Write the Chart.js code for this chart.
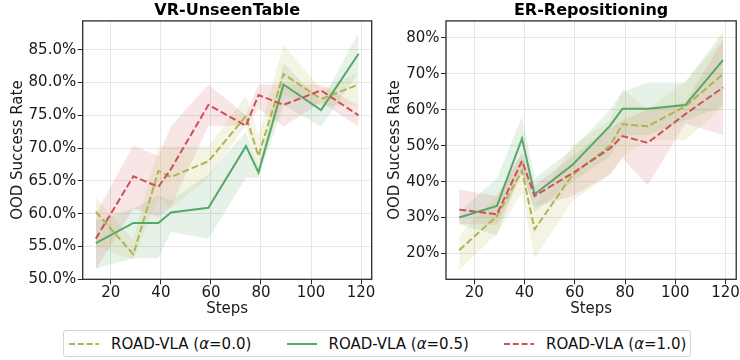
<!DOCTYPE html>
<html><head><meta charset="utf-8">
<script src="https://cdn.jsdelivr.net/npm/chart.js@4.4.1/dist/chart.umd.min.js"></script>
<style>
body{margin:0;background:#fff;width:740px;height:360px;overflow:hidden;position:relative;font-family:"DejaVu Sans",sans-serif;}
#c1{position:absolute;left:0;top:0;}
#c2{position:absolute;left:380px;top:0;}
#legend{position:absolute;left:63px;top:330px;width:628px;height:27px;border:1px solid #d5d5d5;border-radius:3px;box-sizing:border-box;font-size:15px;color:#111;}
.li{position:absolute;top:0;height:25px;display:flex;align-items:center;white-space:nowrap;}
.li svg{margin-right:12px;}
</style></head>
<body>
<canvas id="c1" width="380" height="320"></canvas>
<canvas id="c2" width="360" height="320"></canvas>
<div id="legend"></div>
<script>
// ---- data ----
const steps = [14, 29, 39, 44, 59, 74, 79, 89, 104, 119];
const xTicks = [20, 40, 60, 80, 100, 120];
const seriesNames = ['ROAD-VLA (α=0.0)', 'ROAD-VLA (α=0.5)', 'ROAD-VLA (α=1.0)'];

// VR-UnseenTable
const vrTicks = [50, 55, 60, 65, 70, 75, 80, 85];
const vrA00   = [60.3, 53.8, 66.5, 65.6, 68.0, 74.9, 68.8, 81.3, 77.5, 79.7];
const vrA00Lo = [55.0, 53.0, 62.5, 60.8, 65.5, 73.5, 66.0, 78.0, 76.5, 76.5];
const vrA00Hi = [62.5, 56.0, 70.3, 70.3, 70.3, 78.0, 72.0, 85.8, 79.0, 81.5];
const vrA05   = [55.5, 58.6, 58.6, 60.2, 60.9, 70.3, 66.3, 79.7, 75.8, 84.4];
const vrA05Lo = [51.7, 53.2, 53.2, 57.2, 56.2, 65.5, 65.5, 76.5, 73.3, 81.5];
const vrA05Hi = [59.0, 60.8, 62.8, 62.0, 66.0, 72.5, 67.0, 83.0, 77.0, 87.6];
const vrA10   = [56.2, 65.7, 64.1, 66.8, 76.6, 73.4, 78.1, 76.6, 78.8, 75.0];
const vrA10Lo = [51.5, 60.8, 59.5, 61.0, 73.4, 73.4, 76.0, 73.3, 77.0, 73.3];
const vrA10Hi = [60.0, 70.4, 68.8, 73.3, 79.7, 75.0, 79.7, 79.7, 79.7, 76.5];

// ER-Repositioning
const erTicks = [20, 30, 40, 50, 60, 70, 80];
const erA00   = [20.9, 30.4, 43.0, 26.7, 41.8, 50.0, 56.0, 55.4, 61.0, 69.9];
const erA00Lo = [15.4, 25.5, 37.0, 18.6, 34.5, 42.0, 47.0, 51.5, 51.5, 61.0];
const erA00Hi = [25.1, 36.0, 48.0, 33.0, 50.0, 57.0, 65.7, 60.0, 68.0, 79.9];
const erA05   = [30.0, 33.2, 52.0, 36.5, 44.6, 55.5, 60.3, 60.3, 61.3, 73.8];
const erA05Lo = [28.0, 25.1, 43.2, 31.5, 40.0, 47.0, 53.0, 53.0, 57.0, 61.0];
const erA05Hi = [31.6, 40.9, 58.2, 40.9, 49.0, 60.0, 65.0, 67.6, 67.6, 81.7];
const erA10   = [32.2, 30.9, 45.8, 36.0, 42.3, 49.2, 52.7, 50.8, 58.8, 66.2];
const erA10Lo = [28.2, 28.0, 42.0, 33.0, 36.0, 42.0, 46.5, 39.0, 56.2, 53.0];
const erA10Hi = [37.8, 36.0, 48.0, 39.0, 47.0, 55.0, 57.0, 60.0, 62.0, 79.4];

// ---- styles ----
const colors = ['#b3b350', '#55a868', '#d0505a'];
const bands = ['rgba(179,179,80,0.15)', 'rgba(85,168,104,0.15)', 'rgba(208,80,90,0.15)'];
const dashes = [[7, 3], [], [7, 3]];
const legendDashes = ['6 2.8', '', '6 2.8'];
const FONT = 'DejaVu Sans';

const pts = arr => arr.map((v, i) => ({x: steps[i], y: v}));

const frame = {
  id: 'frame',
  afterDraw(c) {
    const a = c.chartArea, ctx = c.ctx;
    ctx.save();
    ctx.strokeStyle = '#2b2b2b';
    ctx.lineWidth = 1.3;
    ctx.strokeRect(a.left, a.top, a.right - a.left, a.bottom - a.top);
    ctx.restore();
  }
};

function makeChart(id, title, vals, los, his, yTicks, yMin, yMax, fmt, yW, yTitlePad, padRight) {
  const datasets = [];
  for (let s = 0; s < 3; s++) {
    datasets.push({data: pts(his[s]), borderWidth: 0, pointRadius: 0, fill: '+1', backgroundColor: bands[s], order: 10 + s});
    datasets.push({data: pts(los[s]), borderWidth: 0, pointRadius: 0, fill: false, order: 10 + s});
  }
  for (let s = 0; s < 3; s++) {
    datasets.push({label: seriesNames[s], data: pts(vals[s]), borderColor: colors[s], borderWidth: 2,
      borderDash: dashes[s], pointRadius: 0, fill: false, tension: 0, order: 2 - s});
  }
  return new Chart(document.getElementById(id), {
    type: 'line',
    data: {datasets},
    plugins: [frame],
    options: {
      responsive: false, animation: false, devicePixelRatio: 1,
      layout: {padding: {left: 0, right: padRight, top: 0, bottom: 0}},
      plugins: {
        legend: {display: false}, tooltip: {enabled: false},
        title: {display: true, text: title, fullSize: false, color: '#000',
          font: {family: FONT, size: 16, weight: 'bold'}, padding: {top: 1, bottom: 0.7}}
      },
      scales: {
        x: {
          type: 'linear', min: 8.75, max: 124.25,
          afterBuildTicks: sc => { sc.ticks = xTicks.map(v => ({value: v})); },
          afterFit: sc => { sc.height = 40.7; },
          grid: {color: '#e6e6e6', lineWidth: 1, tickColor: '#2b2b2b', tickLength: 5, drawTicks: true},
          border: {display: false},
          ticks: {color: '#1a1a1a', padding: 0, maxRotation: 0, font: {family: FONT, size: 15}},
          title: {display: true, text: 'Steps', color: '#1a1a1a', font: {family: FONT, size: 15}, padding: {top: 0, bottom: 2}}
        },
        y: {
          type: 'linear', min: yMin, max: yMax,
          afterBuildTicks: sc => { sc.ticks = yTicks.map(v => ({value: v})); },
          afterFit: sc => { sc.width = yW; },
          grid: {color: '#e6e6e6', lineWidth: 1, tickColor: '#2b2b2b', tickLength: 5, drawTicks: true},
          border: {display: false},
          ticks: {color: '#1a1a1a', padding: 1.5, font: {family: FONT, size: 15}, callback: v => fmt(v)},
          title: {display: true, text: 'OOD Success Rate', color: '#1a1a1a', font: {family: FONT, size: 15}, padding: {top: yTitlePad, bottom: 0}}
        }
      }
    }
  });
}

makeChart('c1', 'VR-UnseenTable', [vrA00, vrA05, vrA10], [vrA00Lo, vrA05Lo, vrA10Lo], [vrA00Hi, vrA05Hi, vrA10Hi],
  vrTicks, 50, 89.4, v => v.toFixed(1) + '%', 82.7, 9.2, 8.3);
makeChart('c2', 'ER-Repositioning', [erA00, erA05, erA10], [erA00Lo, erA05Lo, erA10Lo], [erA00Hi, erA05Hi, erA10Hi],
  erTicks, 12.8, 84.75, v => v.toFixed(0) + '%', 66, 6.0, 3.3);

// ---- legend ----
const lg = document.getElementById('legend');
const lgLeft = [5, 222.5, 440];
seriesNames.forEach((name, s) => {
  const d = document.createElement('div');
  d.className = 'li';
  d.style.left = lgLeft[s] + 'px';
  const dash = legendDashes[s] ? `stroke-dasharray="${legendDashes[s]}"` : '';
  const parts = name.split('α');
  d.innerHTML = `<svg width="30" height="6"><line x1="0" y1="3" x2="30" y2="3" stroke="${colors[s]}" stroke-width="2" ${dash}/></svg>` +
    `<span>${parts[0]}<i>α</i>${parts[1]}</span>`;
  lg.appendChild(d);
});
</script>
</body></html>
